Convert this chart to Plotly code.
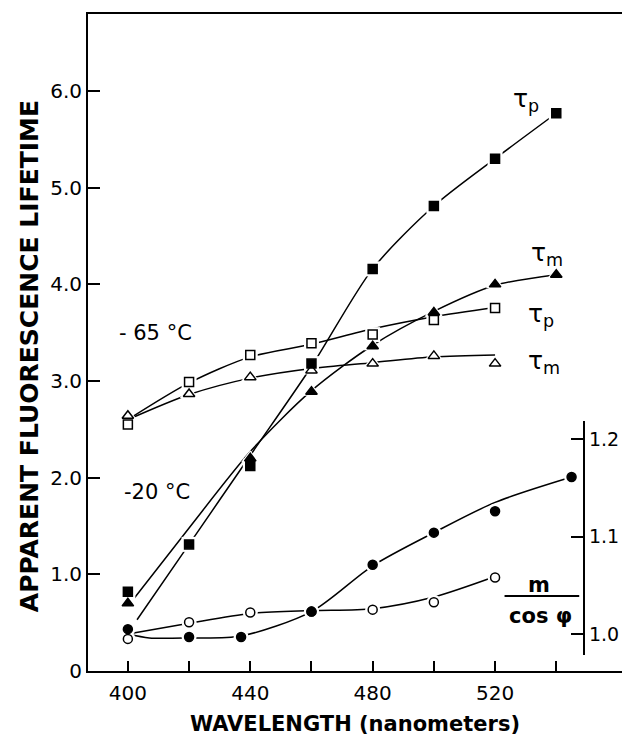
import plotly.graph_objects as go

# ---------------- data ----------------
# -20 C, tau_p (filled squares)
wl_tp20 = [400, 420, 440, 460, 480, 500, 520, 540]
tp20 = [0.82, 1.31, 2.12, 3.18, 4.16, 4.81, 5.30, 5.77]
# -20 C, tau_m (filled triangles)
wl_tm20 = [400, 440, 460, 480, 500, 520, 540]
tm20 = [0.70, 2.20, 2.89, 3.36, 3.71, 4.00, 4.10]
# -65 C, tau_p (open squares)
wl_tp65 = [400, 420, 440, 460, 480, 500, 520]
tp65 = [2.55, 2.99, 3.27, 3.39, 3.48, 3.63, 3.755]
# -65 C, tau_m (open triangles)
wl_tm65 = [400, 420, 440, 460, 480, 500, 520]
tm65 = [2.64, 2.865, 3.04, 3.11, 3.18, 3.26, 3.18]
# m / cos(phi), right axis (filled circles / open circles)
wl_mf = [400, 420, 437, 460, 480, 500, 520, 545]
mf = [1.005, 0.997, 0.997, 1.023, 1.071, 1.104, 1.126, 1.161]
wl_mo = [400, 420, 440, 460, 480, 500, 520]
mo = [0.995, 1.012, 1.022, 1.023, 1.025, 1.0325, 1.058]

# hand-drawn fitted curves
cwl_tp20 = [403, 420, 440, 460, 480, 500, 520, 540]
ctp20 = [0.53, 1.31, 2.23, 3.15, 4.16, 4.81, 5.30, 5.77]
cwl_tm20 = [402, 420, 440, 460, 480, 500, 520, 540]
ctm20 = [0.75, 1.48, 2.27, 2.90, 3.37, 3.72, 3.99, 4.10]
cwl_tp65 = [400, 420, 440, 460, 480, 500, 520]
ctp65 = [2.60, 2.98, 3.25, 3.38, 3.54, 3.665, 3.76]
cwl_tm65 = [400, 420, 440, 460, 480, 500, 520]
ctm65 = [2.60, 2.86, 3.03, 3.13, 3.19, 3.25, 3.27]
cwl_mf = [400, 407, 420, 437, 460, 480, 500, 520, 545]
cmf = [1.0, 0.996, 0.996, 0.998, 1.023, 1.07, 1.104, 1.135, 1.161]
cwl_mo = [400, 420, 440, 460, 480, 500, 520]
cmo = [1.0, 1.011, 1.021, 1.024, 1.026, 1.038, 1.059]

x_tickvals = [400, 440, 480, 520]
x_ticktext = ["400", "440", "480", "520"]
x_minor_tickvals = [420, 460, 500, 540]
y_tickvals = [0, 1, 2, 3, 4, 5, 6]
y_ticktext = ["0", "1.0", "2.0", "3.0", "4.0", "5.0", "6.0"]
y2_tickvals = [1.0, 1.1, 1.2]
y2_ticktext = ["1.0", "1.1", "1.2"]

FONT = "DejaVu Sans"
fig = go.Figure()

LW = 1.5
# curves
for cx, cy, ax in [(cwl_tp20, ctp20, "y"), (cwl_tm20, ctm20, "y"),
                   (cwl_tp65, ctp65, "y"), (cwl_tm65, ctm65, "y"),
                   (cwl_mf, cmf, "y2"), (cwl_mo, cmo, "y2")]:
    fig.add_trace(go.Scatter(x=cx, y=cy, yaxis=ax, mode="lines",
                             line=dict(color="black", width=LW, shape="spline", smoothing=0.8),
                             hoverinfo="skip"))

series = [
    (wl_tp20, tp20, "y", "square", 9),
    (wl_tm20, tm20, "y", "triangle-up", 10),
    (wl_tp65, tp65, "y", "square-open", 9),
    (wl_tm65, tm65, "y", "triangle-up-open", 10),
    (wl_mf, mf, "y2", "circle", 9),
    (wl_mo, mo, "y2", "circle-open", 9),
]
# white halos (gaps in lines around markers)
for sx, sy, ax, sym, sz in series:
    fig.add_trace(go.Scatter(x=sx, y=sy, yaxis=ax, mode="markers",
                             marker=dict(symbol=sym.replace("-open", ""), size=sz + 6,
                                         color="white", line=dict(width=0)),
                             hoverinfo="skip"))
# markers
for sx, sy, ax, sym, sz in series:
    fig.add_trace(go.Scatter(x=sx, y=sy, yaxis=ax, mode="markers",
                             marker=dict(symbol=sym, size=sz, color="black",
                                         line=dict(color="black", width=1.5)),
                             hoverinfo="skip"))

fig.update_layout(
    width=630, height=735,
    margin=dict(l=80, r=4, t=6, b=72),
    plot_bgcolor="rgba(0,0,0,0)", paper_bgcolor="white",
    showlegend=False,
    font=dict(family=FONT, color="black"),
    xaxis=dict(range=[386.97, 564.75], tickmode="array", tickvals=x_tickvals, ticktext=x_ticktext,
               ticks="inside", ticklen=10, tickwidth=1.5, tickcolor="black",
               minor=dict(tickmode="array", tickvals=x_minor_tickvals, ticks="inside",
                          ticklen=10, tickwidth=1.5, tickcolor="black", showgrid=False),
               showline=True, linewidth=2, linecolor="black", mirror=True,
               showgrid=False, zeroline=False, tickfont=dict(size=20, family=FONT),
               ticklabelstandoff=3),
    yaxis=dict(range=[0, 6.797], tickvals=y_tickvals, ticktext=y_ticktext,
               ticks="inside", ticklen=12, tickwidth=1.5, tickcolor="black",
               showline=True, linewidth=2, linecolor="black", mirror=True,
               showgrid=False, zeroline=False, tickfont=dict(size=20, family=FONT)),
    yaxis2=dict(range=[0.9785, 1.2185], domain=[0.0244, 0.3805], anchor="free",
                position=0.912, side="right", tickvals=y2_tickvals, ticktext=y2_ticktext,
                ticks="inside", ticklen=12, tickwidth=1.5, tickcolor="black",
                showline=True, linewidth=2, linecolor="black",
                showgrid=False, zeroline=False, tickfont=dict(size=19, family=FONT)),
)

ann = [
    dict(x=530.2, y=5.907, text="τ<sub>p</sub>", size=25),
    dict(x=537.1, y=4.314, text="τ<sub>m</sub>", size=25),
    dict(x=535.1, y=3.683, text="τ<sub>p</sub>", size=25),
    dict(x=536.1, y=3.196, text="τ<sub>m</sub>", size=25),
    dict(x=409.1, y=3.496, text="- 65 °C", size=21),
    dict(x=409.4, y=1.852, text="-20 °C", size=21),
    dict(x=534.5, y=0.890, text="<b>m</b>", size=21),
    dict(x=534.8, y=0.569, text="<b>cos φ</b>", size=21),
]
for a in ann:
    fig.add_annotation(x=a["x"], y=a["y"], xref="x", yref="y", text=a["text"],
                       showarrow=False, font=dict(size=a["size"], family=FONT, color="black"),
                       xanchor="center", yanchor="middle")

fig.add_shape(type="line", xref="x", yref="y", x0=523.1, x1=547.5, y0=0.776, y1=0.776,
              line=dict(color="black", width=2))

fig.add_annotation(x=-0.1062, y=0.4795, xref="paper", yref="paper",
                   text="<b>APPARENT FLUORESCENCE LIFETIME</b>", textangle=-90,
                   showarrow=False, font=dict(size=25, family=FONT, color="black"),
                   xanchor="center", yanchor="middle")
fig.add_annotation(x=0.491, y=-0.080, xref="paper", yref="paper",
                   text="<b>WAVELENGTH (nanometers)</b>",
                   showarrow=False, font=dict(size=21, family=FONT, color="black"),
                   xanchor="center", yanchor="middle")

fig.write_html("out.html")
